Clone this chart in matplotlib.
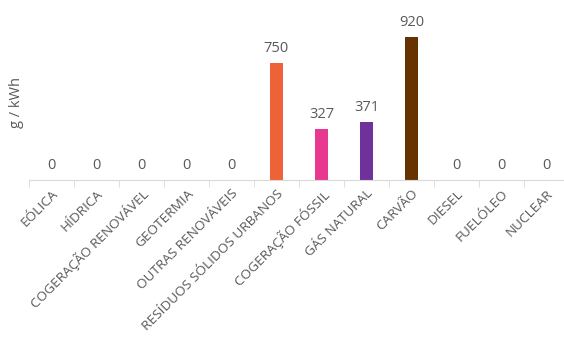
import numpy as np
import matplotlib
matplotlib.use("Agg")
import matplotlib.pyplot as plt

categories = ["EÓLICA", "HÍDRICA", "COGERAÇÃO RENOVÁVEL", "GEOTERMIA",
              "OUTRAS RENOVÁVEIS", "RESÍDUOS SÓLIDOS URBANOS", "COGERAÇÃO FÓSSIL",
              "GÁS NATURAL", "CARVÃO", "DIESEL", "FUELÓLEO", "NUCLEAR"]
values = [0, 0, 0, 0, 0, 750, 327, 371, 920, 0, 0, 0]
colors = ["#ED6337", "#ED6337", "#ED6337", "#ED6337", "#ED6337", "#ED6337",
          "#E8388F", "#70319A", "#663300", "#663300", "#663300", "#663300"]

plt.rcParams['font.family'] = ['Open Sans', 'DejaVu Sans']
grey = "#595959"

fig = plt.figure(figsize=(5.64, 3.38), dpi=100)
W, H = 564, 338
ax = fig.add_axes([29 / W, 158 / H, 540 / W, 180 / H])

x = np.arange(len(categories))
bars = ax.bar(x, values, width=0.31, color=colors)
ax.set_xlim(-0.5, len(categories) - 0.5)
ax.set_ylim(0, 1158)

for xi, v in zip(x, values):
    ax.annotate(str(v), (xi, v), xytext=(0, 5), textcoords="offset points",
                ha="center", va="bottom", fontsize=10.5, color=grey)

for s in ["top", "right", "left"]:
    ax.spines[s].set_visible(False)
ax.spines["bottom"].set_color("#D9D9D9")
ax.set_yticks([])

ax.set_xticks(x)
ax.set_xticklabels(categories, rotation=45, ha="right", rotation_mode="anchor",
                   fontsize=9.7, color=grey)
ax.tick_params(axis="x", which="major", length=0, pad=5)
ax.set_xticks(np.arange(len(categories) + 1) - 0.5, minor=True)
ax.tick_params(axis="x", which="minor", length=5, color="#D9D9D9")

fig.text(16 / W, 1 - 103 / H, "g / kWh", rotation=90, ha="center", va="center",
         fontsize=10.5, color=grey)

fig.savefig("out.png", dpi=100)
